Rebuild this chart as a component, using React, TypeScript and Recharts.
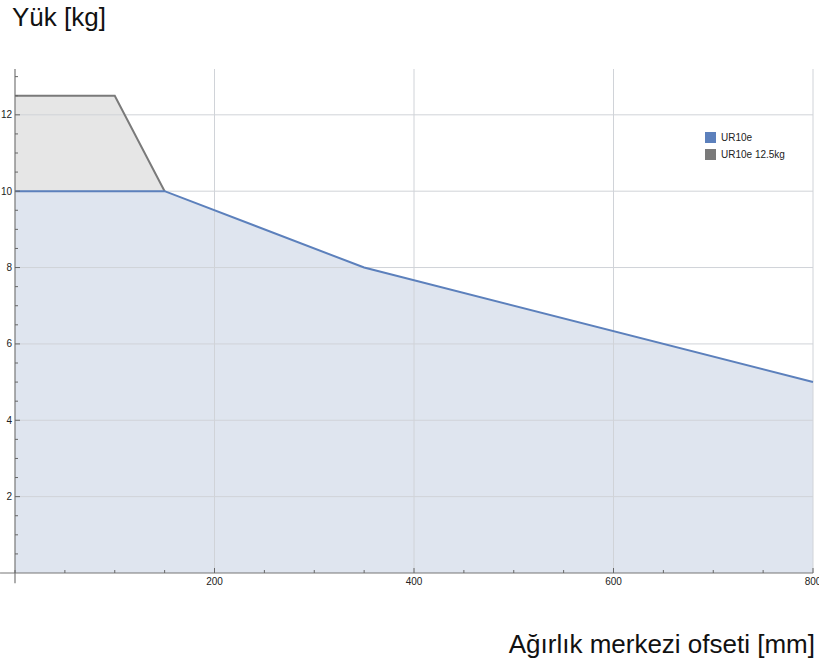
import {
    ComposedChart,
    Area,
    Line,
    XAxis,
    YAxis,
    ReferenceLine,
} from "recharts"

const offsets = [0, 100, 150, 350, 800]
const ur10e = [10, 10, 10, 8, 5]
const ur10eHeavy = [12.5, 12.5, 10, null, null]

const xTicks = [0, 50, 100, 150, 200, 250, 300, 350, 400, 450, 500, 550, 600, 650, 700, 750, 800]
const xLabels = [200, 400, 600, 800]
const yTicks = [0.5, 1, 1.5, 2, 2.5, 3, 3.5, 4, 4.5, 5, 5.5, 6, 6.5, 7, 7.5, 8, 8.5, 9, 9.5, 10, 10.5, 11, 11.5, 12, 12.5, 13]
const yLabels = [2, 4, 6, 8, 10, 12]

const data = offsets.map((x, i) => ({
    x,
    ur10e: ur10e[i],
    heavy: ur10eHeavy[i],
}))

const FONT = "'Liberation Sans', Arial, sans-serif"
const BLUE = "#5c80bc"
const GRAY = "#7a7a7a"

const XTick = (props: any) => {
    const { x, y, payload } = props
    const major = xLabels.includes(payload.value)
    return (
        <g>
            <line x1={x} x2={x} y1={y} y2={y - (major ? 5 : 3)} stroke="#666" strokeWidth={1} />
            {major && (
                <text x={x} y={y + 12} textAnchor="middle" fontSize={10} fill="#222" fontFamily={FONT}>
                    {payload.value}
                </text>
            )}
        </g>
    )
}

const YTick = (props: any) => {
    const { x, y, payload } = props
    const major = yLabels.includes(payload.value)
    return (
        <g>
            <line x1={x} x2={x + (major ? 5 : 3)} y1={y} y2={y} stroke="#666" strokeWidth={1} />
            {major && (
                <text x={x - 3} y={y + 3.5} textAnchor="end" fontSize={10} fill="#222" fontFamily={FONT}>
                    {payload.value}
                </text>
            )}
        </g>
    )
}

export default function App() {
    return (
        <div style={{ position: "absolute", left: 0, top: 0, width: 819, height: 663, background: "#fff", fontFamily: FONT }}>
            <div style={{ position: "absolute", left: 12, top: 2, fontSize: 26, color: "#111" }}>
                Yük [kg]
            </div>
            <div style={{ position: "absolute", right: 4, top: 629, fontSize: 26, color: "#111" }}>
                Ağırlık merkezi ofseti [mm]
            </div>
            <div style={{ position: "absolute", left: 705, top: 129, fontSize: 10, color: "#222" }}>
                <div style={{ display: "flex", alignItems: "center", height: 17 }}>
                    <span style={{ width: 11, height: 11, background: BLUE, display: "inline-block", marginRight: 5 }} />
                    UR10e
                </div>
                <div style={{ display: "flex", alignItems: "center", height: 17 }}>
                    <span style={{ width: 11, height: 11, background: GRAY, display: "inline-block", marginRight: 5 }} />
                    UR10e 12.5kg
                </div>
            </div>
            <ComposedChart
                width={819}
                height={663}
                data={data}
                margin={{ top: 69, right: 6, bottom: 0, left: 0 }}
                style={{ position: "absolute", left: 0, top: 0 }}
            >
                <XAxis
                    dataKey="x"
                    type="number"
                    domain={[0, 800]}
                    ticks={xTicks}
                    tick={<XTick />}
                    tickLine={false}
                    tickSize={0}
                    tickMargin={0}
                    axisLine={false}
                    interval={0}
                    height={90}
                />
                <YAxis
                    type="number"
                    domain={[0, 13.2]}
                    ticks={yTicks}
                    tick={<YTick />}
                    tickLine={false}
                    tickSize={0}
                    tickMargin={0}
                    axisLine={false}
                    interval={0}
                    width={15}
                    allowDataOverflow
                />
                <Area
                    type="linear"
                    dataKey="heavy"
                    stroke="none"
                    fill="#e6e6e6"
                    fillOpacity={1}
                    isAnimationActive={false}
                    dot={false}
                    activeDot={false}
                />
                <Area
                    type="linear"
                    dataKey="ur10e"
                    stroke="none"
                    fill="#dfe5ef"
                    fillOpacity={1}
                    isAnimationActive={false}
                    dot={false}
                    activeDot={false}
                />
                {yLabels.map((v) => (
                    <ReferenceLine key={"h" + v} y={v} stroke="#d0d3d8" strokeWidth={1} />
                ))}
                {xLabels.map((v) => (
                    <ReferenceLine key={"v" + v} x={v} stroke="#d0d3d8" strokeWidth={1} />
                ))}
                <Line
                    type="linear"
                    dataKey="heavy"
                    stroke={GRAY}
                    strokeWidth={2}
                    dot={false}
                    activeDot={false}
                    isAnimationActive={false}
                />
                <Line
                    type="linear"
                    dataKey="ur10e"
                    stroke={BLUE}
                    strokeWidth={2}
                    dot={false}
                    activeDot={false}
                    isAnimationActive={false}
                />
                <ReferenceLine
                    segment={[{ x: -15, y: 0 }, { x: 800, y: 0 }]}
                    stroke="#777"
                    strokeWidth={1.2}
                    ifOverflow="visible"
                />
                <ReferenceLine
                    segment={[{ x: 0, y: -0.27 }, { x: 0, y: 13.2 }]}
                    stroke="#777"
                    strokeWidth={1.2}
                    ifOverflow="visible"
                />
            </ComposedChart>
        </div>
    )
}
